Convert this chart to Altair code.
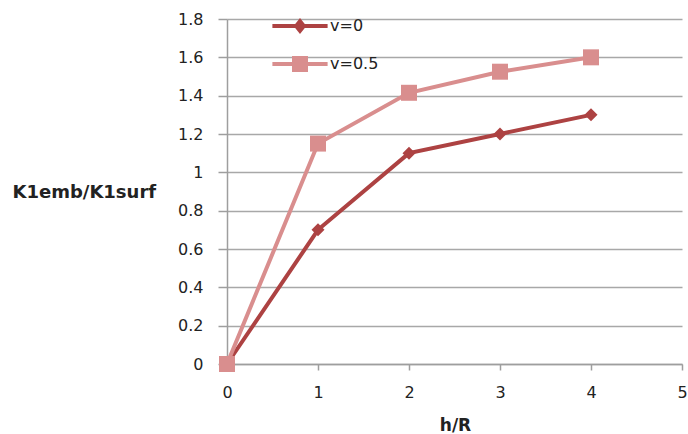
import altair as alt
import pandas as pd

h_vals = [0, 1, 2, 3, 4]
k_v0 = [0.0, 0.70, 1.10, 1.20, 1.30]
k_v05 = [0.0, 1.15, 1.415, 1.525, 1.60]
series_names = ["v=0", "v=0.5"]
series_colors = ["#ad4242", "#d98e8e"]

df = pd.DataFrame({
    "h": h_vals * 2,
    "K": k_v0 + k_v05,
    "series": [series_names[0]] * len(h_vals) + [series_names[1]] * len(h_vals),
})

FONT = "DejaVu Sans"

x_enc = alt.X("h:Q", scale=alt.Scale(domain=[0, 5], nice=False),
              axis=alt.Axis(values=[0, 1, 2, 3, 4, 5], title="h/R", grid=False,
                            tickSize=6, labelPadding=14, labelFlush=False,
                            titleY=61, titleX=228,
                            titleBaseline="middle", titleAlign="center"))
y_enc = alt.Y("K:Q", scale=alt.Scale(domain=[0, 1.8], nice=False),
              axis=alt.Axis(values=[0, 0.2, 0.4, 0.6, 0.8, 1.0, 1.2, 1.4, 1.6, 1.8],
                            format=".1~f", title="K1emb/K1surf", grid=True,
                            tickSize=9, labelPadding=15, titleAngle=0,
                            titleAlign="left", titleBaseline="middle",
                            titleFontSize=18,
                            titleX=-215, titleY=173))

base = alt.Chart(df)

layers = []
shapes = ["diamond", "square"]
sizes = [170, 256]
for name, col, shp, sz in zip(series_names, series_colors, shapes, sizes):
    sub = base.transform_filter(alt.datum.series == name)
    layers.append(sub.mark_line(strokeWidth=4, color=col).encode(x=x_enc, y=y_enc))
    layers.append(sub.mark_point(filled=True, opacity=1, size=sz, shape=shp, color=col)
                  .encode(x=x_enc, y=y_enc))

# legend-only layer (empty data) carrying line+marker symbols
line_diamond = ("M-3.45,-0.25 H3.45 V0.25 H-3.45 Z "
                "M0,-1 L0.8,0 L0,1 L-0.8,0 Z")
line_square = ("M-3.45,-0.25 H3.45 V0.25 H-3.45 Z "
               "M-1,-1 H1 V1 H-1 Z")
legend_layer = base.transform_filter("false").mark_point(filled=True, opacity=1).encode(
    x=x_enc, y=y_enc,
    color=alt.Color("series:N",
                    scale=alt.Scale(domain=series_names, range=series_colors),
                    legend=alt.Legend(title=None, orient="none", legendX=65, legendY=-1,
                                      symbolSize=256, symbolStrokeWidth=0,
                                      labelFontSize=16, labelFont=FONT, labelColor="#222",
                                      labelOffset=22, rowPadding=22, padding=0,
                                      symbolOpacity=1)),
    shape=alt.Shape("series:N",
                    scale=alt.Scale(domain=series_names, range=[line_diamond, line_square])),
)

chart = alt.layer(*layers, legend_layer).properties(
    width=455, height=345,
    autosize=alt.AutoSizeParams(type="none"),
    padding={"left": 227, "top": 19, "right": 6, "bottom": 70},
    background="white",
).configure_view(stroke=None).configure_axis(
    domainColor="#9e9e9e", domainWidth=1.5, tickColor="#9e9e9e", tickWidth=1.5,
    gridColor="#a8a8a8", gridWidth=1.5,
    labelFont=FONT, labelFontSize=16, labelColor="#222",
    titleFont=FONT, titleFontSize=17, titleFontWeight="bold", titleColor="#222",
)

chart.save("out.html", embed_options={"renderer": "svg", "actions": False})
